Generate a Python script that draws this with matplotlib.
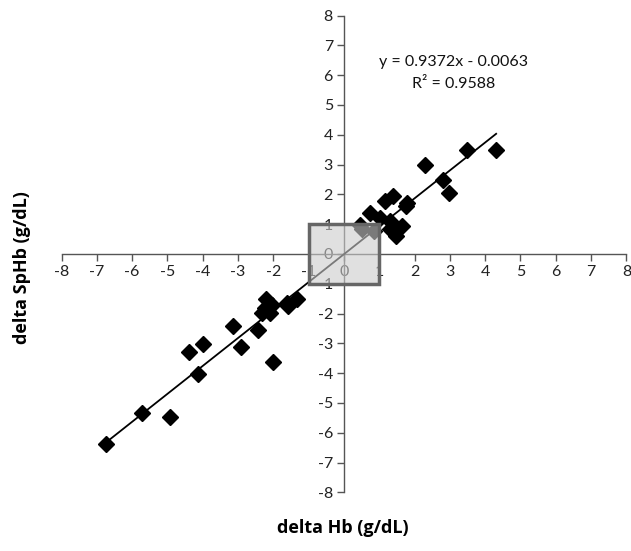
import numpy as np
import matplotlib.pyplot as plt
import matplotlib.patches as mpatches

# delta Hb vs delta SpHb (g/dL)
delta_hb = [-6.75, -5.72, -4.93, -4.13, -4.38, -4.0, -3.14, -2.92, -2.43, -2.02,
            -2.22, -2.33, -2.1, -2.05, -2.25, -1.62, -1.34, -1.6,
            0.45, 0.5, 0.85, 0.74, 1.02, 1.3, 1.38, 1.15, 1.78, 1.75, 1.63, 1.47, 1.3,
            2.29, 2.8, 2.98, 3.49, 4.31]
delta_sphb = [-6.38, -5.33, -5.48, -4.03, -3.28, -3.02, -2.42, -3.13, -2.55, -3.61,
              -1.5, -1.97, -1.98, -1.72, -1.8, -1.66, -1.52, -1.75,
              0.97, 0.85, 0.76, 1.39, 1.2, 1.1, 1.96, 1.78, 1.72, 1.6, 0.94, 0.62, 0.85,
              2.99, 2.48, 2.06, 3.49, 3.49]

slope, intercept = 0.9372, -0.0063
r2 = 0.9588
ticks = list(range(-8, 9))

plt.rcParams['font.family'] = ['Lato', 'DejaVu Sans']
plt.rcParams['hatch.color'] = '#b0b0b0'
plt.rcParams['hatch.linewidth'] = 0.8

fig = plt.figure(figsize=(6.31, 5.51), dpi=100)
ax = fig.add_axes([0.0976, 0.1064, 0.8951, 0.8653])

ax.plot(delta_hb, delta_sphb, linestyle='none', marker='D', markersize=8.3,
        color='black', zorder=3)

xfit = np.array([min(delta_hb), max(delta_hb)])
ax.plot(xfit, slope * xfit + intercept, color='black', linewidth=1.3, zorder=4)

# shaded box around +/-1: translucent dotted fill, solid dark edge
fill = mpatches.Rectangle((-1, -1), 2, 2, facecolor=(0.8, 0.8, 0.8), alpha=0.6,
                          edgecolor='none', hatch='....', zorder=5)
ax.add_patch(fill)
edge = mpatches.Rectangle((-1, -1), 2, 2, facecolor='none',
                          edgecolor='#666666', linewidth=2.5, zorder=6)
ax.add_patch(edge)

ax.set_xlim(-8, 8)
ax.set_ylim(-8, 8)
ax.set_xticks(ticks)
ax.set_yticks(ticks)
ax.set_xticklabels([str(t) for t in ticks])
ax.set_yticklabels([str(t) for t in ticks])

for side in ['top', 'right']:
    ax.spines[side].set_visible(False)
ax.spines['left'].set_position(('data', 0))
ax.spines['bottom'].set_position(('data', 0))
for side in ['left', 'bottom']:
    ax.spines[side].set_color('#555555')
    ax.spines[side].set_linewidth(1.0)

ax.tick_params(direction='out', length=5, width=1, color='#555555',
               labelsize=11.5, labelcolor='#222222', pad=3)

ax.text(3.1, 6.45, f"y = {slope}x - {abs(intercept):.4f}", ha='center', va='center',
        fontsize=11.5, color='#111111')
ax.text(3.1, 5.72, f"R² = {r2}", ha='center', va='center', fontsize=11.5, color='#111111')

fig.text(0.544, 0.042, "delta Hb (g/dL)", ha='center', va='center',
         fontsize=13, fontweight='bold', family=['Open Sans', 'DejaVu Sans'])
fig.text(0.035, 0.515, "delta SpHb (g/dL)", ha='center', va='center', rotation=90,
         fontsize=13, fontweight='bold', family=['Open Sans', 'DejaVu Sans'])

fig.savefig('out.png', dpi=100, facecolor='white')
